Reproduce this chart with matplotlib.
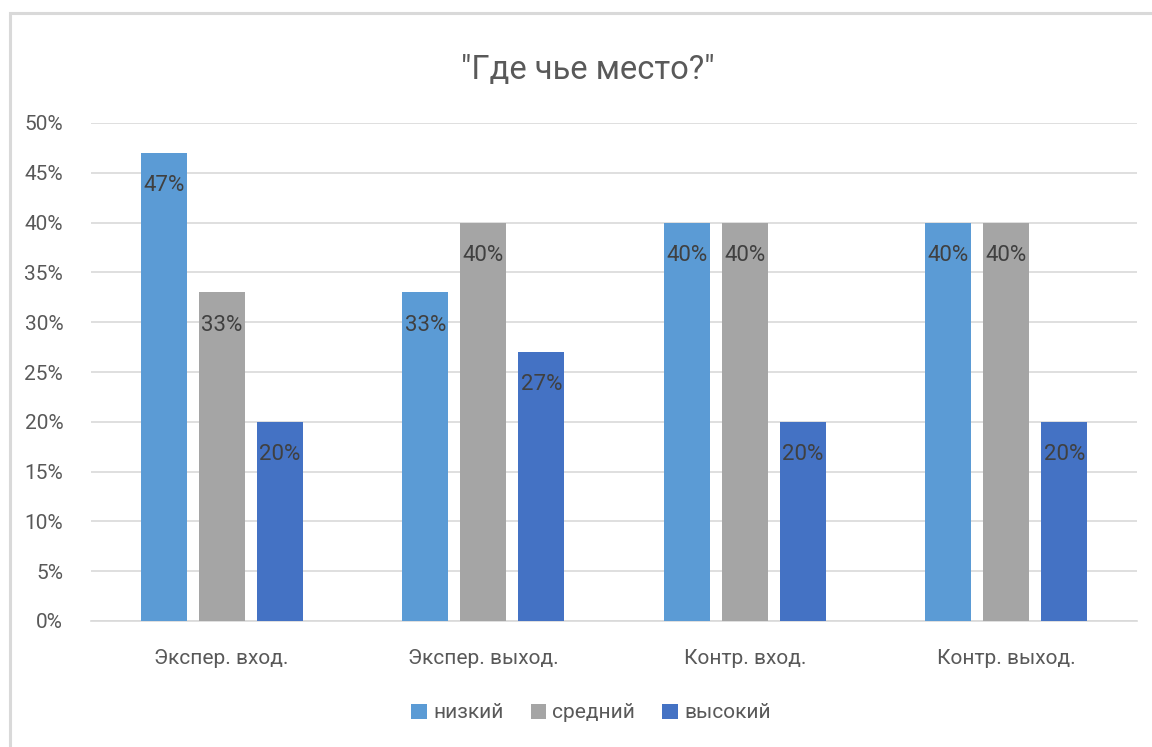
import matplotlib
matplotlib.use("Agg")
import matplotlib.pyplot as plt
import numpy as np
from matplotlib.patches import Rectangle
from matplotlib.ticker import FuncFormatter, MultipleLocator

plt.rcParams['font.family'] = ['Roboto', 'DejaVu Sans']

categories = ["Экспер. вход.", "Экспер. выход.", "Контр. вход.", "Контр. выход."]
series_names = ["низкий", "средний", "высокий"]
low = [47, 33, 40, 40]
mid = [33, 40, 40, 40]
high = [20, 27, 20, 20]
colors = ["#5B9BD5", "#A5A5A5", "#4472C4"]

fig = plt.figure(figsize=(11.52, 7.47), dpi=100)
fig.patch.set_facecolor("white")

# chart frame
fig.patches.append(Rectangle((10 / 1152, -0.05), 1.1, 1 - 13 / 747 + 0.05,
                             transform=fig.transFigure, fill=False,
                             edgecolor="#D9D9D9", linewidth=2.2, zorder=0))

ax = fig.add_axes([91 / 1152, 1 - 621 / 747, (1137 - 91) / 1152, (621 - 123) / 747])

x = np.arange(len(categories))
bw = 0.176
step = 0.222
for i, (vals, name, c) in enumerate(zip([low, mid, high], series_names, colors)):
    pos = x + (i - 1) * step
    bars = ax.bar(pos, vals, width=bw, color=c, label=name, zorder=3)
    for b, v in zip(bars, vals):
        ax.text(b.get_x() + b.get_width() / 2, v - 3.3, f"{v}%",
                ha="center", va="center", fontsize=16, color="#404040", zorder=4)

ax.set_xlim(-0.5, len(categories) - 0.5)
ax.set_ylim(0, 50)
ax.yaxis.set_major_locator(MultipleLocator(5))
ax.yaxis.set_major_formatter(FuncFormatter(lambda v, p: f"{v:.0f}%"))
ax.grid(axis="y", color="#D9D9D9", linewidth=1.2, zorder=0)
for s in ["top", "right", "left"]:
    ax.spines[s].set_visible(False)
ax.spines["bottom"].set_color("#D9D9D9")
ax.spines["bottom"].set_linewidth(1.2)
ax.tick_params(axis="both", length=0, labelsize=15, labelcolor="#595959")
ax.tick_params(axis="y", pad=20)
ax.tick_params(axis="x", pad=20)
ax.set_xticks(x)
ax.set_xticklabels(categories)

fig.text(588 / 1152, 1 - 70 / 747, "\"Где чье место?\"", ha="center", va="center",
         fontsize=23.5, color="#595959")

fig.legend(loc="center", bbox_to_anchor=(591 / 1152, 1 - 713 / 747), ncol=3,
           frameon=False, fontsize=15, labelcolor="#595959",
           handlelength=0.75, handleheight=0.75, handletextpad=0.3, columnspacing=1.3)

fig.savefig("out.png", dpi=100, facecolor="white")
